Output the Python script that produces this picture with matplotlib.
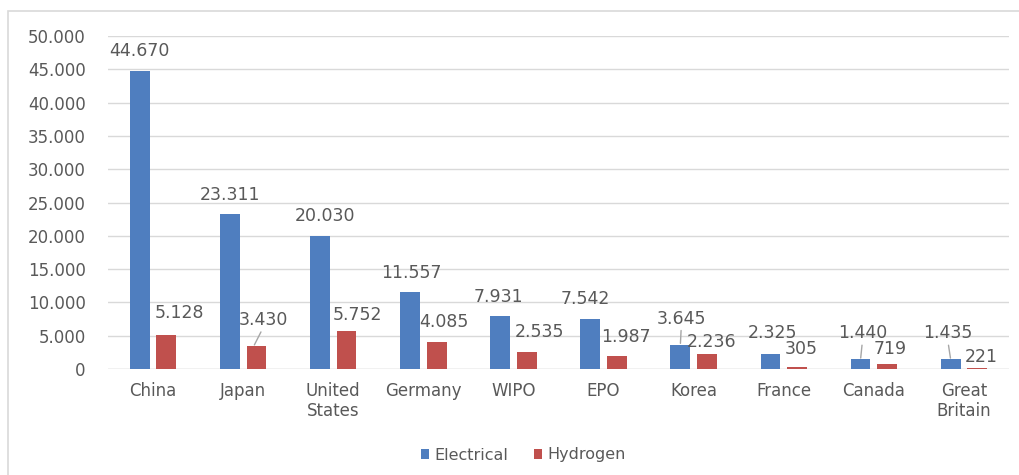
import matplotlib.pyplot as plt
from matplotlib.patches import Rectangle

countries = ['China', 'Japan', 'United\nStates', 'Germany', 'WIPO', 'EPO',
             'Korea', 'France', 'Canada', 'Great\nBritain']
electrical = [44670, 23311, 20030, 11557, 7931, 7542, 3645, 2325, 1440, 1435]
hydrogen = [5128, 3430, 5752, 4085, 2535, 1987, 2236, 305, 719, 221]

# label offsets in pixels (dx, dy) from the top centre of each bar
elec_offsets = [(0, 20), (0, 19), (5, 20), (1, 19), (-2, 19), (-5, 20),
                (1, 26), (2, 21), (2, 26), (-3, 26)]
hyd_offsets = [(13, 22), (10, 26), (11, 16), (7, 20), (13, 20), (9, 19),
               (5, 12), (4, 18), (3, 15), (4, 11)]
elec_leaders = {6, 8, 9}
hyd_leaders = {1}

BLUE = '#4f7ebf'
RED = '#c0504d'
GREY = '#595959'


def fmt(v):
    return f'{v:,}'.replace(',', '.')


def main():
    plt.rcParams['font.family'] = 'DejaVu Sans'
    fig = plt.figure(figsize=(10.2, 4.75), dpi=100)
    fig.patches.append(Rectangle((8 / 1020, -0.1), 1.2, 1.1 - 11 / 475,
                                 transform=fig.transFigure, fill=False,
                                 edgecolor='#d9d9d9', linewidth=1.2))
    ax = fig.add_axes([108 / 1020, (475 - 369) / 475, 901 / 1020, 333 / 475])

    x = list(range(len(countries)))
    w = 0.22
    gap = 0.075
    xe = [i - (w + gap) / 2 for i in x]
    xh = [i + (w + gap) / 2 for i in x]
    ax.bar(xe, electrical, width=w, color=BLUE, label='Electrical', zorder=3)
    ax.bar(xh, hydrogen, width=w, color=RED, label='Hydrogen', zorder=3)

    for i in x:
        line = dict(arrowstyle='-', color='#a6a6a6', lw=1, shrinkA=0, shrinkB=1,
                    relpos=(0.5, 0.15))
        ax.annotate(fmt(electrical[i]), (xe[i], electrical[i]),
                    xytext=elec_offsets[i], textcoords='offset pixels',
                    ha='center', va='center', fontsize=12.5, color=GREY,
                    arrowprops=line if i in elec_leaders else None)
        line = dict(arrowstyle='-', color='#a6a6a6', lw=1, shrinkA=0, shrinkB=1,
                    relpos=(0.5, 0.15))
        ax.annotate(fmt(hydrogen[i]),
                    (xh[i] - (0.03 if i in hyd_leaders else 0), hydrogen[i]),
                    xytext=hyd_offsets[i], textcoords='offset pixels',
                    ha='center', va='center', fontsize=12.5, color=GREY,
                    arrowprops=line if i in hyd_leaders else None)

    ax.set_xlim(-0.5, len(countries) - 0.5)
    ax.set_ylim(0, 50000)
    ax.set_yticks(range(0, 50001, 5000))
    ax.set_yticklabels([fmt(v) for v in range(0, 50001, 5000)])
    ax.set_xticks(x)
    ax.set_xticklabels(countries)
    ax.tick_params(axis='both', length=0, colors=GREY, labelsize=12)
    ax.tick_params(axis='x', pad=9)
    ax.tick_params(axis='y', pad=16)
    ax.grid(axis='y', color='#d9d9d9', linewidth=1, zorder=0)
    for s in ax.spines.values():
        s.set_visible(False)
    ax.axhline(0, color='#d9d9d9', linewidth=1, zorder=1)

    fig.legend(loc='center', bbox_to_anchor=(523 / 1020, 1 - 455 / 475),
               ncol=2, frameon=False, fontsize=11.5, labelcolor=GREY,
               handlelength=0.55, handleheight=0.55, handletextpad=0.3,
               columnspacing=1.6)

    fig.savefig('out.png', dpi=100)


if __name__ == "__main__":
    main()
